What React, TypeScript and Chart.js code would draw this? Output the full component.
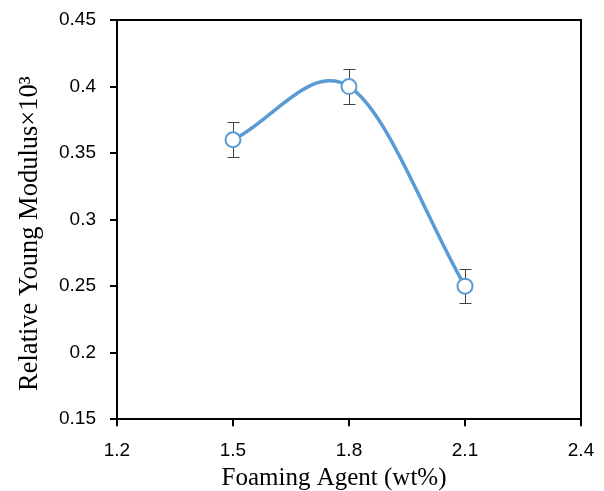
import React, { useEffect, useRef } from "react";
import { Chart, registerables } from "chart.js";

Chart.register(...registerables);

const foamingAgent = [1.5, 1.8, 2.1];
const youngModulus = [0.36, 0.4, 0.25];
const errorValues = [0.013, 0.013, 0.013];
const xTicks = [1.2, 1.5, 1.8, 2.1, 2.4];
const yTicks = [0.15, 0.2, 0.25, 0.3, 0.35, 0.4, 0.45];
const xTitle = "Foaming Agent (wt%)";
const yTitle = "Relative Young Modulus×10³";

// error bars drawn before the markers so the markers sit on top
const errorBarPlugin = {
  id: "errorBars",
  beforeDatasetsDraw(chart: any) {
    const ctx = chart.ctx;
    const xs = chart.scales.x;
    const ys = chart.scales.y;
    ctx.save();
    ctx.strokeStyle = "#404040";
    ctx.lineWidth = 1;
    foamingAgent.forEach((xv, i) => {
      const x = Math.round(xs.getPixelForValue(xv)) + 0.5;
      const yt = Math.round(ys.getPixelForValue(youngModulus[i] + errorValues[i])) + 0.5;
      const yb = Math.round(ys.getPixelForValue(youngModulus[i] - errorValues[i])) + 0.5;
      ctx.beginPath();
      ctx.moveTo(x, yt);
      ctx.lineTo(x, yb);
      ctx.moveTo(x - 6, yt);
      ctx.lineTo(x + 6, yt);
      ctx.moveTo(x - 6, yb);
      ctx.lineTo(x + 6, yb);
      ctx.stroke();
    });
    ctx.restore();
  },
};

// Excel-like smoothing: symmetric control arms of (P[i+1]-P[i-1])/6
const excelSmoothPlugin = {
  id: "excelSmooth",
  beforeDatasetsDraw(chart: any) {
    const meta = chart.getDatasetMeta(0);
    const line = meta.dataset;
    if (!line) return;
    line.updateControlPoints(chart.chartArea, "x");
    const pts = meta.data;
    const n = pts.length;
    for (let i = 0; i < n; i++) {
      const p = pts[i];
      const prev = pts[Math.max(0, i - 1)];
      const next = pts[Math.min(n - 1, i + 1)];
      let dx: number, dy: number;
      if (i === 0) {
        dx = (next.x - p.x) / 3;
        dy = (next.y - p.y) / 3;
      } else if (i === n - 1) {
        dx = (p.x - prev.x) / 3;
        dy = (p.y - prev.y) / 3;
      } else {
        dx = (next.x - prev.x) / 6;
        dy = (next.y - prev.y) / 6;
      }
      p.cp1x = p.x - dx;
      p.cp1y = p.y - dy;
      p.cp2x = p.x + dx;
      p.cp2y = p.y + dy;
    }
    line._path = undefined;
  },
};

const frameAndTitlesPlugin = {
  id: "frameTitles",
  afterDraw(chart: any) {
    const { ctx, chartArea } = chart;
    ctx.save();
    ctx.strokeStyle = "#000";
    ctx.lineWidth = 2;
    ctx.beginPath();
    ctx.moveTo(chartArea.left, chartArea.top);
    ctx.lineTo(chartArea.right, chartArea.top);
    ctx.lineTo(chartArea.right, chartArea.bottom);
    ctx.stroke();

    ctx.fillStyle = "#000";
    ctx.textAlign = "center";
    ctx.textBaseline = "alphabetic";
    ctx.font = "25px 'Liberation Serif'";
    const cx = (chartArea.left + chartArea.right) / 2 - 15;
    ctx.fillText(xTitle, cx, 485);

    ctx.translate(37, (chartArea.top + chartArea.bottom) / 2 + 14);
    ctx.rotate(-Math.PI / 2);
    ctx.font = "26.5px 'Liberation Serif'";
    ctx.fillText(yTitle, 0, 0);
    ctx.restore();
  },
};

export default function App() {
  const ref = useRef<HTMLCanvasElement | null>(null);
  useEffect(() => {
    if (!ref.current) return;
    const chart = new Chart(ref.current, {
      type: "line",
      data: {
        datasets: [
          {
            data: foamingAgent.map((x, i) => ({ x, y: youngModulus[i] })),
            borderColor: "#5B9BD5",
            backgroundColor: "#ffffff",
            borderWidth: 3.5,
            tension: 0.4,
            pointRadius: 7.5,
            pointBorderWidth: 2,
            pointBackgroundColor: "#ffffff",
            pointBorderColor: "#5B9BD5",
          },
        ],
      },
      options: {
        animation: false,
        responsive: false,
        maintainAspectRatio: false,
        layout: { padding: { left: 45, right: 23, top: 20, bottom: 16 } },
        plugins: { legend: { display: false }, tooltip: { enabled: false } },
        scales: {
          x: {
            type: "linear",
            min: 1.2,
            max: 2.4,
            afterBuildTicks: (s: any) => {
              s.ticks = xTicks.map((v) => ({ value: v }));
            },
            afterFit: (s: any) => {
              s.paddingRight = 0;
            },
            ticks: {
              color: "#000",
              font: { family: "Liberation Sans", size: 19 },
              padding: 13,
              callback: (v: any) => String(Math.round(Number(v) * 10) / 10),
            },
            grid: { drawOnChartArea: false, drawTicks: true, tickLength: 7, color: "#000", lineWidth: 2 },
            border: { display: true, color: "#000", width: 2 },
          },
          y: {
            type: "linear",
            min: 0.15,
            max: 0.45,
            afterBuildTicks: (s: any) => {
              s.ticks = yTicks.map((v) => ({ value: v }));
            },
            afterFit: (s: any) => {
              s.paddingTop = 0;
              s.paddingBottom = 0;
            },
            ticks: {
              color: "#000",
              font: { family: "Liberation Sans", size: 19 },
              padding: 14,
              callback: (v: any) => String(Math.round(Number(v) * 100) / 100),
            },
            grid: { drawOnChartArea: false, drawTicks: true, tickLength: 7, color: "#000", lineWidth: 2 },
            border: { display: true, color: "#000", width: 2 },
          },
        },
      },
      plugins: [excelSmoothPlugin, errorBarPlugin, frameAndTitlesPlugin],
    });
    return () => chart.destroy();
  }, []);
  return (
    <div style={{ position: "fixed", left: 0, top: 0, width: 604, height: 491, background: "#fff" }}>
      <canvas ref={ref} width={604} height={491} style={{ width: 604, height: 491 }} />
    </div>
  );
}
